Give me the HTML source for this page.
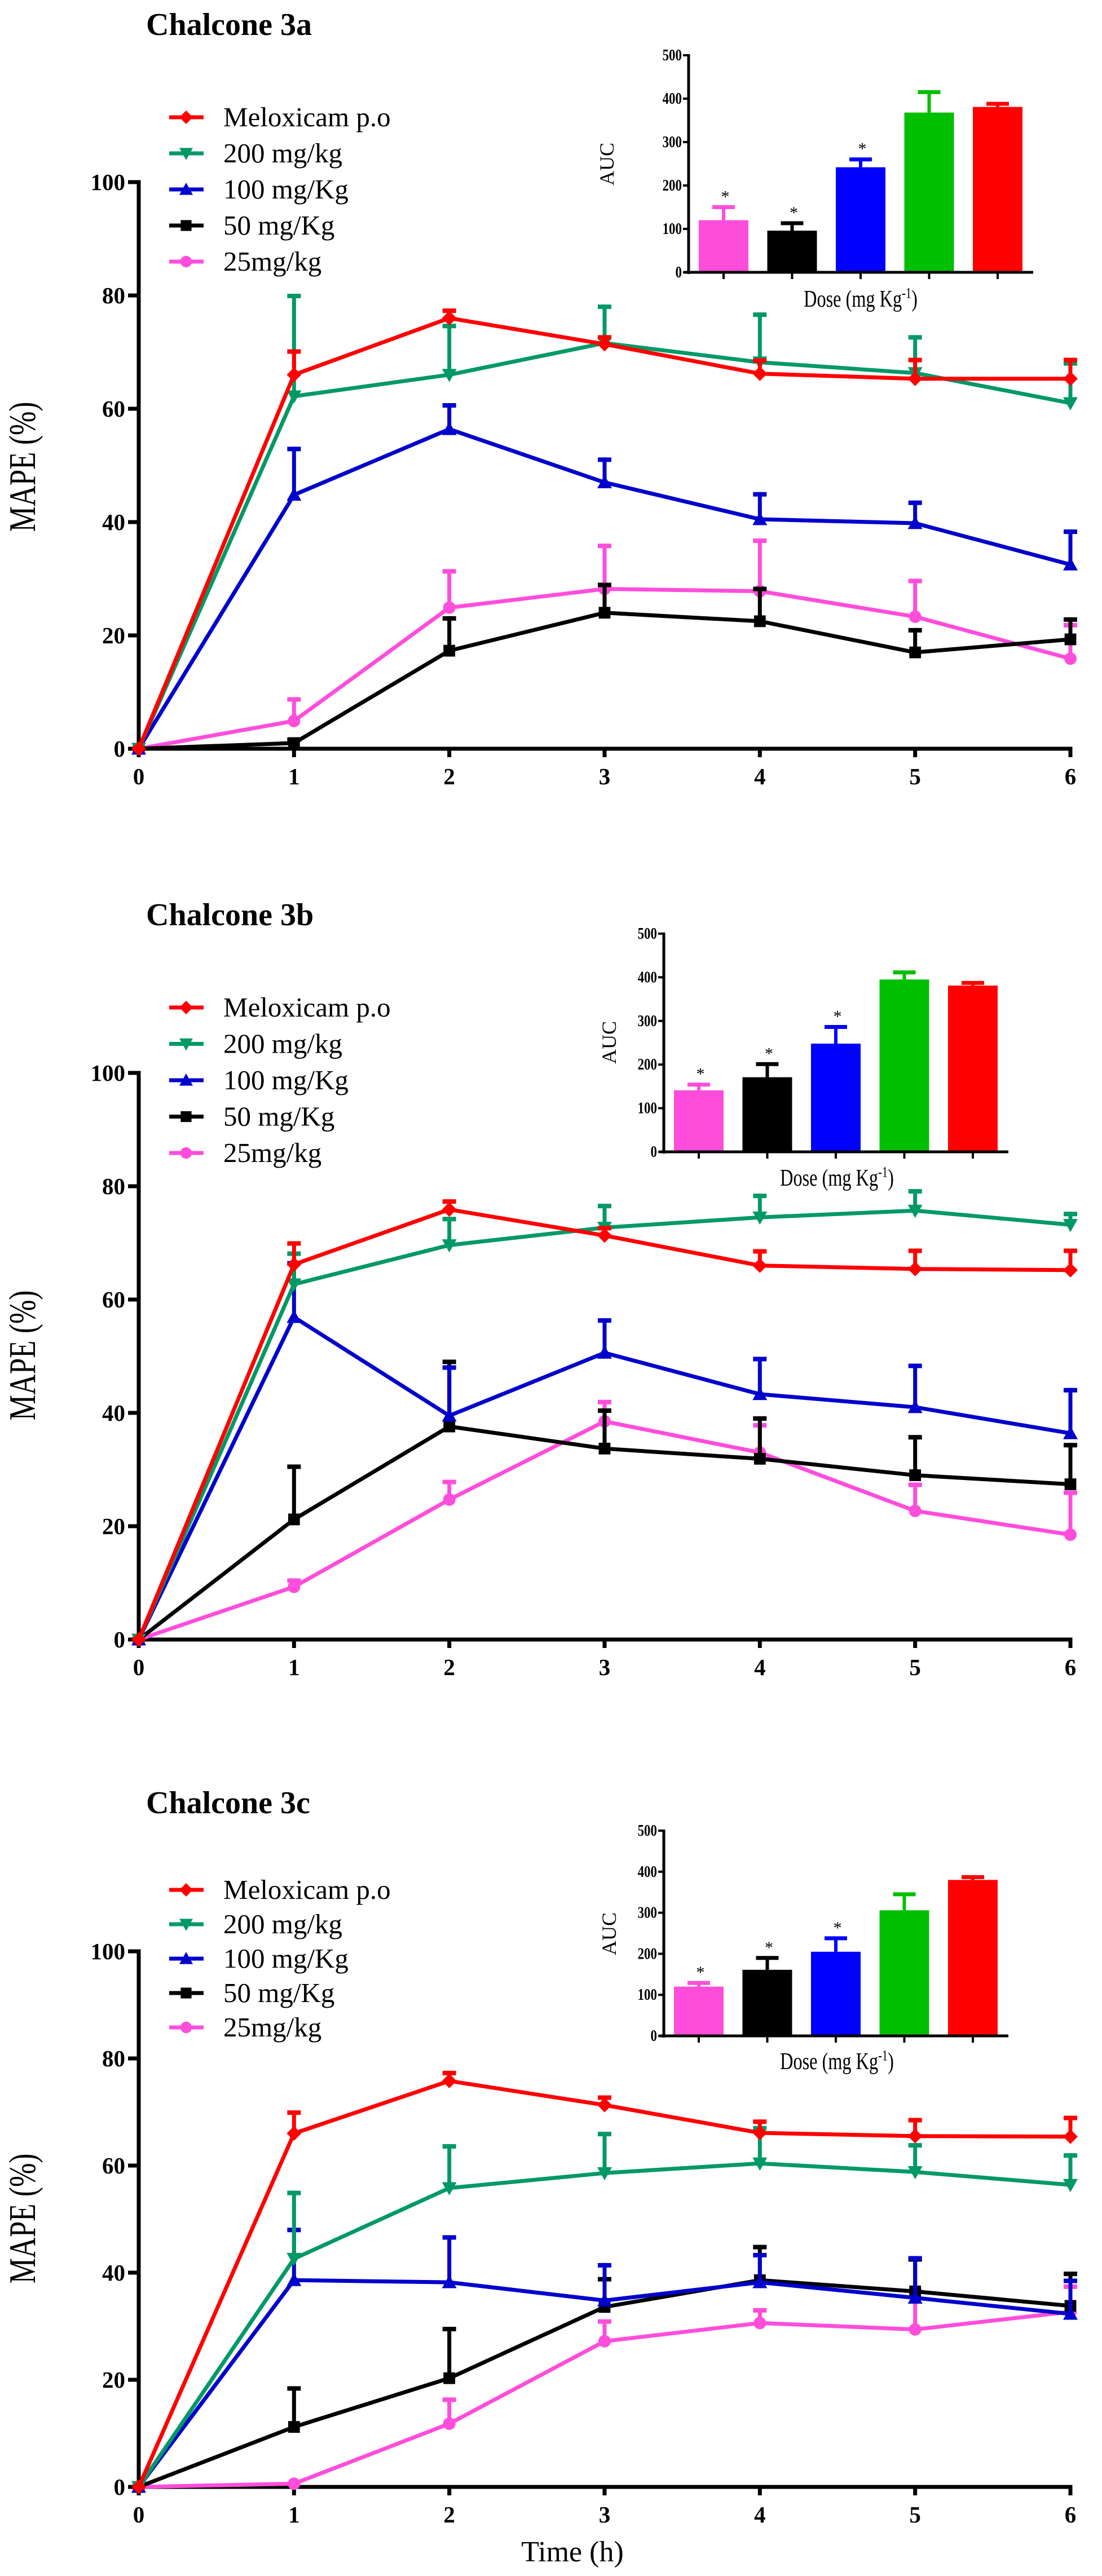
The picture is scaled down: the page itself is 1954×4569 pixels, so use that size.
<!DOCTYPE html>
<html><head><meta charset="utf-8">
<style>
html,body{margin:0;padding:0;background:#fff;}
svg{display:block;font-family:"Liberation Serif",serif;}
svg text{font-family:"Liberation Serif",serif;}
</style></head>
<body>
<svg id="fig" xmlns="http://www.w3.org/2000/svg" width="1954" height="4569" viewBox="0 0 1954 4569" font-family="Liberation Serif, serif"></svg>
<script>
// ---------- data ----------
const times = [0,1,2,3,4,5,6];
const xTicks = ["0","1","2","3","4","5","6"];
const yTicks = [0,20,40,60,80,100];
const aucTicks = [0,100,200,300,400,500];
const seriesNames = ["Meloxicam p.o","200 mg/kg","100 mg/Kg","50 mg/Kg","25mg/kg"];
const panelTitles = ["Chalcone 3a","Chalcone 3b","Chalcone 3c"];

// Panel 3a
const a_melox = [0,66,76,71.4,66.2,65.3,65.3];
const a_meloxErr = [0,70.5,77.7,73,68.9,69,69];
const a_d200 = [0,62.2,66,71.6,68.2,66.3,61];
const a_d200Err = [0,80.3,75,78.4,77,73,68.4];
const a_d100 = [0,44.8,56.4,47,40.5,39.8,32.5];
const a_d100Err = [0,53.3,61,51.4,45.3,43.8,38.7];
const a_d50 = [0,1,17.3,24,22.5,17,19.3];
const a_d50Err = [0,2,23.4,29.3,28.6,21.3,23.2];
const a_d25 = [0,4.9,24.9,28.2,27.8,23.3,15.9];
const a_d25Err = [0,9.1,31.7,36.2,37.1,30,22.2];
const a_auc = [120,96,242,368,381];
const a_aucErr = [154,117,264,419,392];
const a_star = [true,true,true,false,false];

// Panel 3b
const b_melox = [0,66.2,75.9,71.3,66,65.4,65.2];
const b_meloxErr = [0,70.3,77.7,73,68.9,69,69];
const b_d200 = [0,62.7,69.6,72.7,74.5,75.7,73.2];
const b_d200Err = [0,68.5,74.6,76.9,78.7,79.5,75.5];
const b_d100 = [0,56.9,39.5,50.6,43.3,41,36.4];
const b_d100Err = [0,66.8,48.4,56.7,49.9,48.7,44.4];
const b_d50 = [0,21.2,37.6,33.7,31.9,29,27.4];
const b_d50Err = [0,30.9,49.4,40.8,39.4,36.1,34.7];
const b_d25 = [0,9.3,24.7,38.5,33,22.7,18.5];
const b_d25Err = [0,10.8,28.2,42.3,38.2,27.7,26.3];
const b_auc = [141,171,248,395,381];
const b_aucErr = [158,205,290,415,391];
const b_star = [true,true,true,false,false];

// Panel 3c
const c_melox = [0,66,75.8,71.3,66.1,65.5,65.4];
const c_meloxErr = [0,70.3,77.7,73.1,68.6,68.9,69.3];
const c_d200 = [0,42.6,55.8,58.6,60.4,58.8,56.4];
const c_d200Err = [0,55.3,64,66.3,67.4,64.2,62.3];
const c_d100 = [0,38.6,38.2,34.8,38.2,35.3,32.3];
const c_d100Err = [0,48.4,47,41.8,43.7,43.1,38.9];
const c_d50 = [0,11.2,20.3,33.6,38.6,36.5,33.8];
const c_d50Err = [0,18.8,29.9,39.2,45.2,42.9,40.2];
const c_d25 = [0,0.6,11.8,27.2,30.6,29.4,32.7];
const c_d25Err = [0,0.8,16.7,31.3,33.4,37,37.8];
const c_auc = [120,161,205,306,380];
const c_aucErr = [133,194,242,349,391];
const c_star = [true,true,true,false,false];

// ---------- layout ----------
const COLORS = ["#ff0000","#009966","#0000cc","#000000","#ff4ddb"];
const BARCOLORS = ["#ff4ddb","#000000","#0000ff","#00bf00","#ff0000"];
const MARKERS = ["diamond","down","up","square","circle"];
const FONT = "Liberation Serif, serif";
const panels = [
  {key:"a", d:[a_melox,a_d200,a_d100,a_d50,a_d25], e:[a_meloxErr,a_d200Err,a_d100Err,a_d50Err,a_d25Err], auc:a_auc, aucErr:a_aucErr, star:a_star,
   y100:323, y0:1328, titleY:43, legY:208, legStep:64, ax:1221, iy0:483, iy500:98, aucX:1076, aucY:291, doseX:1526, doseY:532, mapeY:828},
  {key:"b", d:[b_melox,b_d200,b_d100,b_d50,b_d25], e:[b_meloxErr,b_d200Err,b_d100Err,b_d50Err,b_d25Err], auc:b_auc, aucErr:b_aucErr, star:b_star,
   y100:1903, y0:2908, titleY:1622, legY:1787, legStep:64.5, ax:1177, iy0:2043, iy500:1656, aucX:1080, aucY:1849, doseX:1484, doseY:2091, mapeY:2404},
  {key:"c", d:[c_melox,c_d200,c_d100,c_d50,c_d25], e:[c_meloxErr,c_d200Err,c_d100Err,c_d50Err,c_d25Err], auc:c_auc, aucErr:c_aucErr, star:c_star,
   y100:3461, y0:4411, titleY:3197, legY:3352, legStep:61, ax:1177, iy0:3611, iy500:3247, aucX:1080, aucY:3430, doseX:1484, doseY:3658, mapeY:3935}
];
const X0 = 246, X6 = 1898;
const NS = "http://www.w3.org/2000/svg";
const svg = document.getElementById("fig");
function mk(tag, attrs, parent){
  const el = document.createElementNS(NS, tag);
  for (const k in attrs) el.setAttribute(k, attrs[k]);
  if (tag === "text") el.setAttribute("font-family", FONT);
  (parent||svg).appendChild(el);
  return el;
}
function marker(g, type, cx, cy, color, s){
  let el;
  if (type==="diamond") el = mk("polygon",{points:`${cx},${cy-s} ${cx+s},${cy} ${cx},${cy+s} ${cx-s},${cy}`,fill:color},g);
  else if (type==="down") el = mk("polygon",{points:`${cx-s},${cy-s*0.8} ${cx+s},${cy-s*0.8} ${cx},${cy+s}`,fill:color},g);
  else if (type==="up") el = mk("polygon",{points:`${cx-s},${cy+s*0.8} ${cx+s},${cy+s*0.8} ${cx},${cy-s}`,fill:color},g);
  else if (type==="square") el = mk("rect",{x:cx-s*0.8,y:cy-s*0.8,width:s*1.6,height:s*1.6,fill:color},g);
  else el = mk("circle",{cx:cx,cy:cy,r:s*0.85,fill:color},g);
  return el;
}

panels.forEach((P, pi) => {
  const xS = t => X0 + (X6 - X0) * t / 6;
  const yS = v => P.y0 - (P.y0 - P.y100) * v / 100;
  const g = mk("g",{});
  
  

  const title = mk("text",{x:259,y:P.titleY+19,"font-size":56,"font-weight":"bold",fill:"#000"},g);
  title.textContent = panelTitles[pi];
  
  

  const yl = mk("text",{transform:`translate(${62},${P.mapeY}) rotate(-90) scale(1,1.3)`,"text-anchor":"middle","font-size":51,fill:"#000"},g);
  yl.textContent = "MAPE (%)";
  
  

  const axes = mk("g",{},g);
  
  
  mk("line",{x1:X0,y1:P.y100-3.5,x2:X0,y2:P.y0+3.5,stroke:"#000","stroke-width":7},axes);
  mk("line",{x1:X0-3.5,y1:P.y0,x2:X6+3.5,y2:P.y0,stroke:"#000","stroke-width":7},axes);
  yTicks.forEach(v => {
    const y = yS(v);
    mk("line",{x1:X0-19,y1:y,x2:X0,y2:y,stroke:"#000","stroke-width":7},axes);
    const t = mk("text",{x:222,y:y+14,"text-anchor":"end","font-size":41,"font-weight":"bold",fill:"#000"},axes);
    t.textContent = String(v);
    
    
  });
  times.forEach((tv, i) => {
    const x = xS(tv);
    mk("line",{x1:x,y1:P.y0,x2:x,y2:P.y0+15,stroke:"#000","stroke-width":7},axes);
    const t = mk("text",{x:x,y:P.y0+63,"text-anchor":"middle","font-size":41,"font-weight":"bold",fill:"#000"},axes);
    t.textContent = xTicks[i];
    
    
  });

  for (let si = 4; si >= 0; si--) {
    const vals = P.d[si], errs = P.e[si], col = COLORS[si];
    const sg = mk("g",{},g);
    
    
    vals.forEach((v, i) => {
      if (errs[i] > v + 0.3) {
        const x = xS(times[i]);
        mk("line",{x1:x,y1:yS(v),x2:x,y2:yS(errs[i]),stroke:col,"stroke-width":7},sg);
        mk("line",{x1:x-12,y1:yS(errs[i])+4,x2:x+12,y2:yS(errs[i])+4,stroke:col,"stroke-width":8},sg);
      }
    });
    const pts = vals.map((v, i) => `${xS(times[i])},${yS(v)}`).join(" ");
    mk("polyline",{points:pts,fill:"none",stroke:col,"stroke-width":7,"stroke-linejoin":"round"},sg);
    vals.forEach((v, i) => {
      const m = marker(sg, MARKERS[si], xS(times[i]), yS(v), col, 13);
      
      
    });
  }

  const lg = mk("g",{},g);
  
  
  seriesNames.forEach((nm, si) => {
    const y = P.legY + si * P.legStep;
    const eg = mk("g",{},lg);
    
    
    mk("line",{x1:300,y1:y,x2:361,y2:y,stroke:COLORS[si],"stroke-width":7},eg);
    marker(eg, MARKERS[si], 330, y, COLORS[si], 12);
    const t = mk("text",{x:396,y:y+16,"font-size":49,fill:"#000"},eg);
    t.textContent = nm;
  });

  const ig = mk("g",{},g);
  
  
  const iy = v => P.iy0 - (P.iy0 - P.iy500) * v / 500;
  const bx = i => P.ax + 62 + 121.5 * i;
  P.auc.forEach((v, i) => {
    const col = BARCOLORS[i];
    mk("line",{x1:bx(i),y1:iy(v),x2:bx(i),y2:iy(P.aucErr[i])+3,stroke:col,"stroke-width":6},ig);
    mk("line",{x1:bx(i)-20,y1:iy(P.aucErr[i])+3,x2:bx(i)+20,y2:iy(P.aucErr[i])+3,stroke:col,"stroke-width":7},ig);
    const b = mk("rect",{x:bx(i)-44,y:iy(v),width:88,height:P.iy0-iy(v),fill:col},ig);
    
    
    if (P.star[i]) {
      const s = mk("text",{x:bx(i)+3,y:iy(P.aucErr[i])-6,"text-anchor":"middle","font-size":30,fill:"#000"},ig);
      s.textContent = "*";
      
      
    }
    mk("line",{x1:bx(i),y1:P.iy0,x2:bx(i),y2:P.iy0+12,stroke:"#000","stroke-width":4},ig);
  });
  mk("line",{x1:P.ax,y1:P.iy500-2,x2:P.ax,y2:P.iy0+3,stroke:"#000","stroke-width":5},ig);
  mk("line",{x1:P.ax-8,y1:P.iy0,x2:P.ax+611,y2:P.iy0,stroke:"#000","stroke-width":5},ig);
  aucTicks.forEach(v => {
    mk("line",{x1:P.ax-10,y1:iy(v),x2:P.ax,y2:iy(v),stroke:"#000","stroke-width":4},ig);
    const t = mk("text",{x:P.ax-12,y:iy(v)+9,"text-anchor":"end","font-size":27,fill:"#000","font-weight":"bold",transform:`translate(${P.ax-12},${iy(v)+9}) scale(0.85,1.05) translate(${-(P.ax-12)},${-(iy(v)+9)})`},ig);
    t.textContent = String(v);
    
    
  });
  const al = mk("text",{transform:`translate(${P.aucX+12},${P.aucY}) rotate(-90)`,"text-anchor":"middle","font-size":36,fill:"#000"},ig);
  al.textContent = "AUC";
  
  
  const dl = mk("text",{transform:`translate(${P.doseX},${P.doseY+12}) scale(0.85,1.1)`,"text-anchor":"middle","font-size":38,fill:"#000"},ig);
  dl.innerHTML = 'Dose (mg Kg<tspan dy="-14" font-size="24">-1</tspan><tspan dy="14">)</tspan>';
  
  
});

const tl = mk("text",{x:1015,y:4543,"text-anchor":"middle","font-size":52,fill:"#000"});
tl.textContent = "Time (h)";


</script>
</body></html>
